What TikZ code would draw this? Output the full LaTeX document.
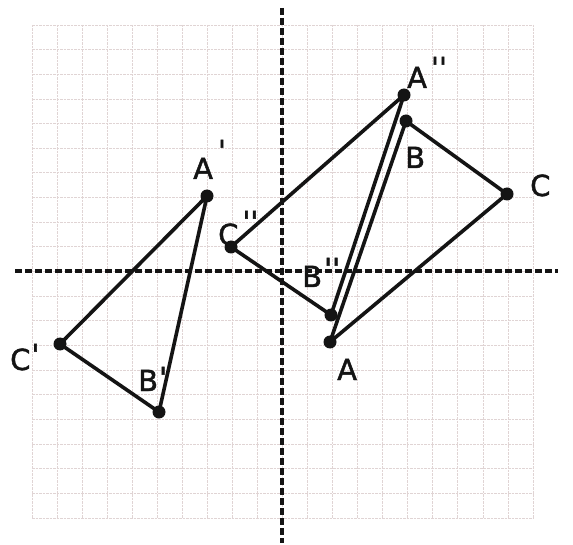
\documentclass[tikz,border=0pt]{standalone}
\usepackage{fontspec}
\newfontfamily\hand[FakeBold=1.6]{DejaVu Sans}
\definecolor{gridc}{RGB}{224,212,212}
\definecolor{ink}{RGB}{20,20,20}
\newcommand{\pr}[2]{\hspace{#2}\raisebox{#1}{\textquotesingle}}
\newcommand{\ppr}[2]{\hspace{#2}\raisebox{#1}{\textquotesingle\textquotesingle}}
\begin{document}
\begin{tikzpicture}[x=1pt,y=-1pt,
  gridline/.style={draw=gridc, line width=0.8pt, dash pattern=on 2.5pt off 1pt},
  vaxis/.style={draw=ink, line width=3.2pt, dash pattern=on 7pt off 3pt},
  haxis/.style={draw=ink, line width=4.5pt, dash pattern=on 7pt off 3pt},
  edge/.style={draw=ink, line width=3.6pt, line cap=round, line join=round},
  vdot/.style={fill=ink},
  lbl/.style={font=\hand\fontsize{29}{29}\selectfont, text=ink, anchor=base west, inner sep=0pt}]
\useasboundingbox (0,0) rectangle (573,545);
\fill[white] (0,0) rectangle (573,545);
% graph paper
\foreach \i in {0,...,20} {
  \draw[gridline] (32+25.05*\i,25) -- (32+25.05*\i,518);
  \draw[gridline] (32,25+24.65*\i) -- (533,25+24.65*\i);
}
% axes
\draw[vaxis] (282,8) -- (282,543);
\draw[haxis] (15,271) -- (558,271);
% vertices
\coordinate (A) at (330,342);
\coordinate (B) at (406,121);
\coordinate (C) at (507,194);
\coordinate (A1) at (207,196);
\coordinate (B1) at (159,412);
\coordinate (C1) at (60,344);
\coordinate (A2) at (404,95);
\coordinate (B2) at (331,315);
\coordinate (C2) at (231,247);
% triangles
\draw[edge] (A) -- (B) -- (C) -- cycle;
\draw[edge] (A1) -- (B1) -- (C1) -- cycle;
\draw[edge] (A2) -- (B2) -- (C2) -- cycle;
\foreach \p in {A,B,C,A1,B1,C1,A2,B2,C2} { \fill[vdot] (\p) circle (6.5); }
% labels
\node[lbl] (lA) at (337,380) {A};
\node[lbl] (lB) at (405,168) {B};
\node[lbl] (lC) at (530,196) {C};
\node[lbl] (lA1) at (193,179) {A\pr{18pt}{5pt}};
\node[lbl] (lB1) at (138,391) {B\pr{3pt}{1pt}};
\node[lbl] (lC1) at (10,370) {C\pr{5pt}{1pt}};
\node[lbl] (lA2) at (407,88) {A\ppr{10pt}{4pt}};
\node[lbl] (lB2) at (302,287) {B\ppr{8pt}{2pt}};
\node[lbl] (lC2) at (218,245) {C\ppr{13pt}{4pt}};
\end{tikzpicture}
\end{document}
